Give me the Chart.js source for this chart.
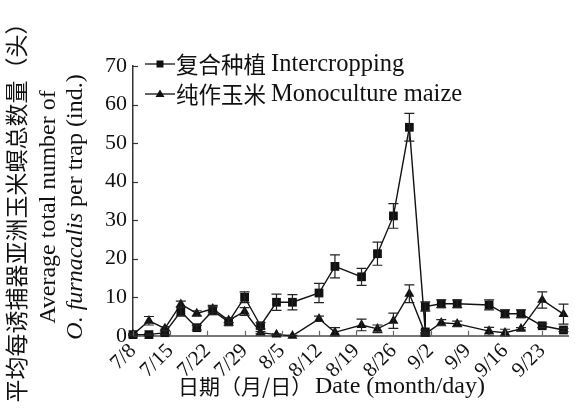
<!DOCTYPE html>
<html>
<head>
<meta charset="utf-8">
<script src="https://cdn.jsdelivr.net/npm/chart.js@4.4.1/dist/chart.umd.min.js"></script>
<style>
  html, body { margin: 0; padding: 0; background: #fff; }
  #wrap { width: 575px; height: 414px; position: relative; }
</style>
</head>
<body>
<div id="wrap"><canvas id="c" width="575" height="414"></canvas></div>
<script>
// Trap catches of O. furnacalis, 2 planting patterns (mean ± SE)
const interDates = ['07-08','07-11','07-14','07-17','07-20','07-23','07-26','07-29','08-01','08-04','08-07','08-12','08-15','08-20','08-23','08-26','08-29','09-01','09-01','09-04','09-07','09-13','09-16','09-19','09-23','09-27'];
const interMean  = [0.3,0.3,0.8,6.3,2.1,6.5,3.6,10.0,2.6,8.7,8.7,11.1,18.0,15.3,21.3,31.1,54.1,1.0,7.6,8.3,8.3,8.0,5.7,5.7,2.6,1.5];
const interErr   = [0.2,0.2,0.5,1.2,0.6,1.0,0.9,1.4,0.8,2.1,2.0,2.5,3.0,2.2,3.0,3.2,3.6,0.5,1.2,1.0,1.0,1.3,1.0,1.0,0.5,0.4];

const monoDates = ['07-08','07-11','07-14','07-17','07-20','07-23','07-26','07-29','08-01','08-04','08-07','08-12','08-15','08-20','08-23','08-26','08-29','09-01','09-04','09-07','09-13','09-16','09-19','09-23','09-27'];
const monoMean  = [0.3,3.9,1.9,8.2,5.8,7.0,4.0,6.3,0.8,0.3,0.0,4.4,0.9,2.8,1.8,3.9,10.9,0.5,3.4,3.1,1.2,0.8,1.8,9.3,5.6];
const monoErr   = [0.2,1.1,0.5,0.8,0.7,0.9,0.6,1.0,0.3,0.2,0.1,0.7,1.2,1.5,1.0,2.0,2.3,0.3,0.8,0.7,1.0,0.9,0.3,2.1,2.6];

const tickLabels = ['7/8','7/15','7/22','7/29','8/5','8/12','8/19','8/26','9/2','9/9','9/16','9/23'];
const seriesCn = ['复合种植', '纯作玉米'];
const seriesEn = ['Intercropping', 'Monoculture maize'];

const SERIF = '"Liberation Serif", "Times New Roman", "Noto Sans CJK SC", serif';
const CJK = '"Noto Sans CJK SC", "Liberation Serif", sans-serif';

// days since 7/8
function dayOf(s) {
  const [m, d] = s.split('-').map(Number);
  return (Date.UTC(2000, m - 1, d) - Date.UTC(2000, 6, 8)) / 86400000;
}
function toPoints(dates, mean, err) {
  return dates.map((s, i) => ({ x: dayOf(s), y: mean[i], e: err[i] }));
}

// error bars with caps
const errorBars = {
  id: 'errorBars',
  afterDatasetsDraw(chart) {
    const { ctx, scales: { x, y } } = chart;
    ctx.save();
    ctx.strokeStyle = '#222';
    ctx.lineWidth = 1.2;
    chart.data.datasets.forEach(ds => {
      ds.data.forEach(p => {
        if (!p.e) return;
        const px = x.getPixelForValue(p.x);
        const top = y.getPixelForValue(p.y + p.e);
        const bot = y.getPixelForValue(Math.max(0, p.y - p.e));
        ctx.beginPath();
        ctx.moveTo(px, top); ctx.lineTo(px, bot);
        ctx.moveTo(px - 5, top); ctx.lineTo(px + 5, top);
        ctx.moveTo(px - 5, bot); ctx.lineTo(px + 5, bot);
        ctx.stroke();
      });
    });
    ctx.restore();
  }
};

// inward tick marks, legend and axis titles
const decor = {
  id: 'decor',
  afterDraw(chart) {
    const { ctx, chartArea: a, scales: { x, y } } = chart;
    ctx.save();
    ctx.strokeStyle = '#333';
    ctx.lineWidth = 1.2;
    y.ticks.forEach(t => {
      const py = Math.round(y.getPixelForValue(t.value)) + 0.5;
      ctx.beginPath(); ctx.moveTo(a.left, py); ctx.lineTo(a.left + 5, py); ctx.stroke();
    });
    ctx.strokeStyle = '#666';
    x.ticks.forEach(t => {
      const px = Math.round(x.getPixelForValue(t.value)) + 0.5;
      ctx.beginPath(); ctx.moveTo(px, a.bottom); ctx.lineTo(px, a.bottom - 5); ctx.stroke();
    });

    // legend
    const rows = [64, 94];
    ctx.textBaseline = 'middle';
    ctx.textAlign = 'left';
    chart.data.datasets.forEach((ds, i) => {
      const ly = rows[i];
      ctx.strokeStyle = '#111';
      ctx.lineWidth = 1.3;
      ctx.beginPath(); ctx.moveTo(145, ly); ctx.lineTo(175, ly); ctx.stroke();
      ctx.fillStyle = '#111';
      if (ds.pointStyle === 'rect') {
        ctx.fillRect(156.5, ly - 3.5, 7, 7);
      } else {
        ctx.beginPath();
        ctx.moveTo(160, ly - 4.5); ctx.lineTo(164.5, ly + 3); ctx.lineTo(155.5, ly + 3);
        ctx.closePath(); ctx.fill();
      }
      ctx.font = '22.5px ' + CJK;
      ctx.fillText(seriesCn[i], 176, ly);
      ctx.font = '24.5px ' + SERIF;
      ctx.fillText(seriesEn[i], 271, ly + 1);
    });

    // x title
    ctx.fillStyle = '#111';
    ctx.font = '21px ' + CJK;
    ctx.fillText('日期（月/日）', 178, 386);
    ctx.font = '24px ' + SERIF;
    ctx.fillText('Date (month/day)', 315, 387);

    // y titles (rotated)
    ctx.translate(0, 207);
    ctx.rotate(-Math.PI / 2);
    ctx.textAlign = 'center';
    ctx.font = '23px ' + CJK;
    ctx.fillText('平均每诱捕器亚洲玉米螟总数量（头）', 0, 16);
    ctx.font = '24px ' + SERIF;
    ctx.fillText('Average total number of', 0, 49);
    // second line: italic species name + plain rest
    const italic = 'italic 24px ' + SERIF, plain = '24px ' + SERIF;
    const p1 = 'O. furnacalis', p2 = ' per trap (ind.)';
    ctx.font = italic; const w1 = ctx.measureText(p1).width;
    ctx.font = plain; const w2 = ctx.measureText(p2).width;
    const x0 = -(w1 + w2) / 2;
    ctx.textAlign = 'left';
    ctx.font = italic; ctx.fillText(p1, x0, 76);
    ctx.font = plain; ctx.fillText(p2, x0 + w1, 76);
    ctx.restore();
  }
};

new Chart(document.getElementById('c'), {
  type: 'line',
  data: {
    datasets: [
      {
        label: seriesEn[0],
        data: toPoints(interDates, interMean, interErr),
        borderColor: '#111', backgroundColor: '#111', borderWidth: 1.4,
        pointStyle: 'rect', pointRadius: 6.2, pointBorderWidth: 0,
        tension: 0
      },
      {
        label: seriesEn[1],
        data: toPoints(monoDates, monoMean, monoErr),
        borderColor: '#111', backgroundColor: '#111', borderWidth: 1.4,
        pointStyle: 'triangle', pointRadius: 5.8, pointBorderWidth: 0,
        tension: 0
      }
    ]
  },
  options: {
    responsive: false,
    animation: false,
    devicePixelRatio: 1,
    clip: false,
    layout: { padding: { left: 99, top: 66, right: 0, bottom: 28 } },
    plugins: { legend: { display: false }, tooltip: { enabled: false }, title: { display: false } },
    scales: {
      x: {
        type: 'linear', min: 0, max: 82,
        afterBuildTicks(scale) { scale.ticks = tickLabels.map((_, i) => ({ value: i * 7 })); },
        ticks: {
          autoSkip: false, minRotation: 45, maxRotation: 45, padding: 3,
          color: '#111', font: { family: SERIF, size: 21 },
          callback: v => tickLabels[Math.round(v / 7)]
        },
        grid: { display: false, drawTicks: false },
        border: { display: true, color: '#777', width: 2 }
      },
      y: {
        min: 0, max: 70,
        ticks: { stepSize: 10, padding: 6, color: '#111', font: { family: SERIF, size: 22 } },
        grid: { display: false, drawTicks: false },
        border: { display: true, color: '#333', width: 1.5 }
      }
    }
  },
  plugins: [errorBars, decor]
});
</script>
</body>
</html>
